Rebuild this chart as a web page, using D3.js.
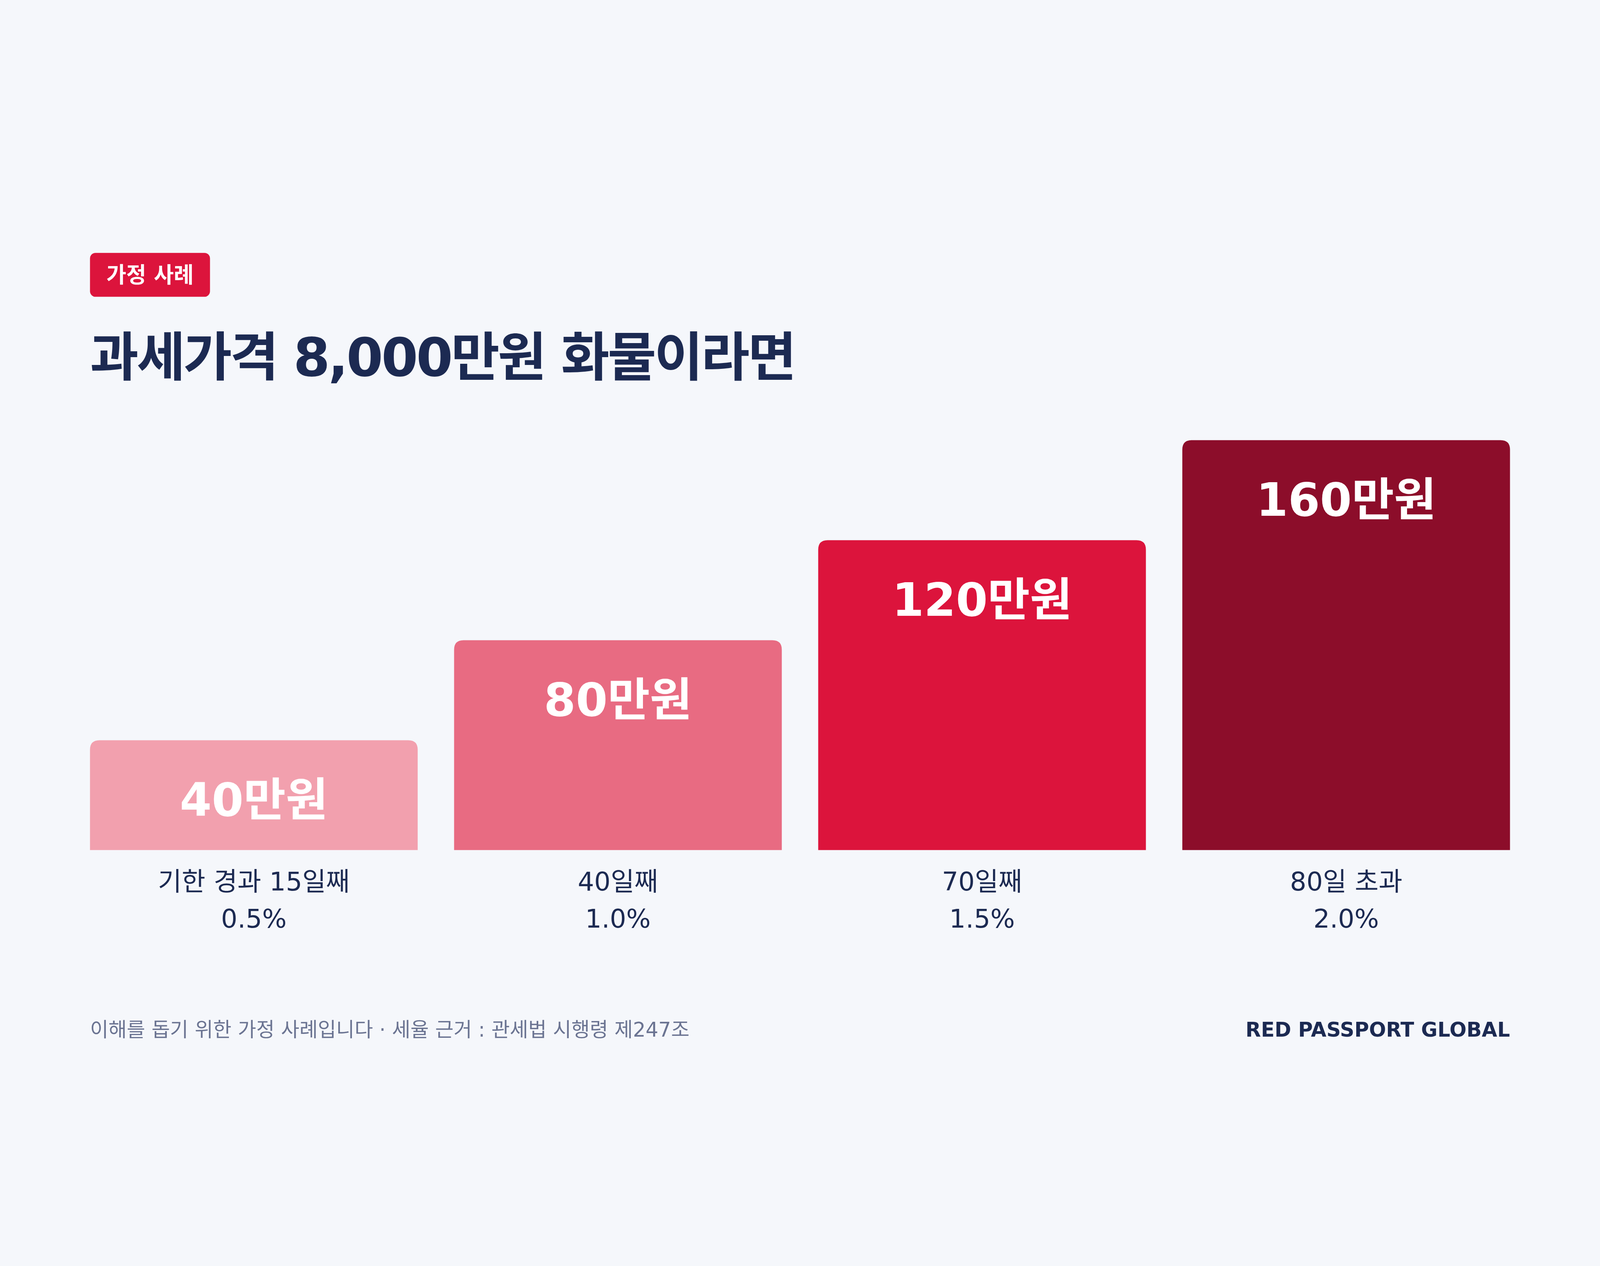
<!DOCTYPE html>
<html lang="ko">
<head>
<meta charset="utf-8">
<script src="https://cdn.jsdelivr.net/npm/d3@7"></script>
<style>
  html, body { margin: 0; padding: 0; background: #f5f7fb; overflow: hidden; }
  svg { display: block; width: 100vw; height: 100vh;
        font-family: "DejaVu Sans", "Noto Sans CJK KR", sans-serif; }
</style>
</head>
<body>
<svg id="chart"></svg>
<script>
// data
const categories = ["기한 경과 15일째", "40일째", "70일째", "80일 초과"];
const rates      = ["0.5%", "1.0%", "1.5%", "2.0%"];
const amounts    = [40, 80, 120, 160];          // 만원
const barColors  = ["#f2a0ae", "#e86b82", "#dc143c", "#8c0d2a"];

const width = 5760, height = 3240;
const left = 324, right = 5436;
const baseY = 2401, topY = 926;

let svg = d3.select("#chart")
            .attr("viewBox", "0 0 " + width + " " + height)
            .attr("preserveAspectRatio", "xMidYMid meet");

svg.append("rect")
   .attr("width", width).attr("height", height)
   .attr("fill", "#f5f7fb");

// badge
let badge = svg.append("g").attr("transform", "translate(324,252)");
badge.append("rect")
     .attr("width", 432).attr("height", 158)
     .attr("rx", 20)
     .attr("fill", "#dc143c");
badge.append("text")
     .attr("x", 216).attr("y", 79)
     .attr("dy", "0.36em")
     .attr("text-anchor", "middle")
     .attr("fill", "#fff")
     .attr("font-weight", "bold")
     .attr("font-size", 78)
     .text("가정 사례");

// title
svg.append("text")
   .attr("x", left).attr("y", 694)
   .attr("fill", "#1c2a52")
   .attr("font-weight", "bold")
   .attr("font-size", 190)
   .attr("letter-spacing", "-0.035em")
   .text("과세가격 8,000만원 화물이라면");

// scales
let x = d3.scaleBand()
          .domain(categories)
          .range([left, right])
          .paddingInner(0.1);

let y = d3.scaleLinear()
          .domain([0, d3.max(amounts)])
          .range([baseY - 35, topY]);

const r = 34;
function topRounded(x0, y0, w, h) {
    return "M" + x0 + "," + (y0 + h) +
           "V" + (y0 + r) +
           "Q" + x0 + "," + y0 + " " + (x0 + r) + "," + y0 +
           "H" + (x0 + w - r) +
           "Q" + (x0 + w) + "," + y0 + " " + (x0 + w) + "," + (y0 + r) +
           "V" + (y0 + h) + "Z";
}

let bars = svg.selectAll(".bar")
              .data(amounts)
              .enter()
              .append("g")
              .attr("class", "bar");

bars.append("path")
    .attr("d", function (d, i) {
        return topRounded(x(categories[i]), y(d), x.bandwidth(), baseY - y(d));
    })
    .attr("fill", function (d, i) { return barColors[i]; });

// value inside bars
bars.append("text")
    .attr("x", function (d, i) { return x(categories[i]) + x.bandwidth() / 2; })
    .attr("y", function (d) { return y(d) + 272; })
    .attr("text-anchor", "middle")
    .attr("fill", "#fff")
    .attr("font-weight", "bold")
    .attr("font-size", 165)
    .text(function (d) { return d + "만원"; });

// category labels
bars.append("text")
    .attr("x", function (d, i) { return x(categories[i]) + x.bandwidth() / 2; })
    .attr("y", 2547)
    .attr("text-anchor", "middle")
    .attr("fill", "#1c2a52")
    .attr("font-size", 93)
    .text(function (d, i) { return categories[i]; });

bars.append("text")
    .attr("x", function (d, i) { return x(categories[i]) + x.bandwidth() / 2; })
    .attr("y", 2680)
    .attr("text-anchor", "middle")
    .attr("fill", "#1c2a52")
    .attr("font-size", 93)
    .text(function (d, i) { return rates[i]; });

// footer
svg.append("text")
   .attr("x", left).attr("y", 3073)
   .attr("fill", "#6b7492")
   .attr("font-size", 72)
   .text("이해를 돕기 위한 가정 사례입니다 · 세율 근거 : 관세법 시행령 제247조");

svg.append("text")
   .attr("x", right).attr("y", 3073)
   .attr("text-anchor", "end")
   .attr("fill", "#1c2a52")
   .attr("font-weight", "bold")
   .attr("font-size", 72)
   .text("RED PASSPORT GLOBAL");
</script>
</body>
</html>
